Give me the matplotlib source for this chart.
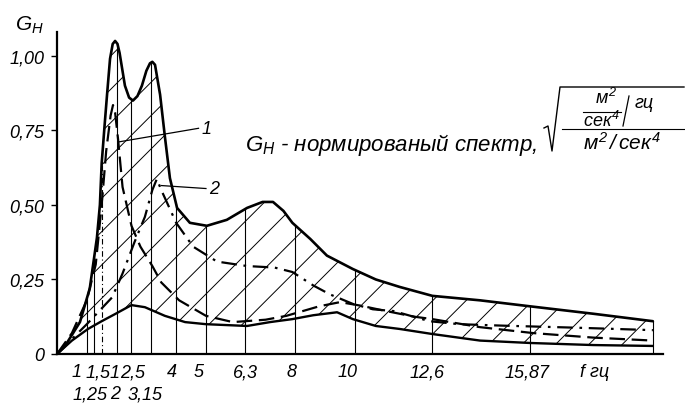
import numpy as np
import matplotlib
matplotlib.use("Agg")
import matplotlib.pyplot as plt
from matplotlib import font_manager
from matplotlib.lines import Line2D
from matplotlib.transforms import ScaledTranslation, blended_transform_factory

plt.rcParams["font.family"] = ["Liberation Sans", "DejaVu Sans"]
plt.rcParams["font.style"] = "italic"
plt.rcParams["mathtext.fontset"] = "custom"
plt.rcParams["mathtext.it"] = "Liberation Sans:italic"
plt.rcParams["mathtext.rm"] = "Liberation Sans:italic"
plt.rcParams["mathtext.sf"] = "Liberation Sans:italic"
plt.rcParams["hatch.linewidth"] = 0.7

installed = {f.name for f in font_manager.fontManager.ttflist}
NARROW = "Liberation Sans Narrow" if "Liberation Sans Narrow" in installed else "Liberation Sans"

# верхняя огибающая нормированного спектра
f_up = [0, 0.27, 0.77, 1.1, 1.34, 1.44, 1.5, 1.6, 1.68, 1.78, 1.87, 1.95, 2.03, 2.1,
        2.28, 2.42, 2.55, 2.7, 2.85, 3.0, 3.12, 3.2, 3.29, 3.46, 3.62, 3.79, 4.03,
        4.46, 5.03, 5.7, 6.38, 6.9, 7.25, 7.6, 7.9, 8.5, 9.06, 9.93, 10.7, 11.5,
        12.6, 14.2, 15.87, 18.0, 20.0]
g_up = [0, 0.027, 0.107, 0.22, 0.39, 0.50, 0.64, 0.77, 0.87, 0.99, 1.04, 1.05, 1.04, 1.01,
        0.90, 0.86, 0.85, 0.865, 0.90, 0.95, 0.975, 0.98, 0.97, 0.87, 0.73, 0.59, 0.49,
        0.44, 0.43, 0.45, 0.49, 0.51, 0.51, 0.48, 0.44, 0.386, 0.33, 0.285, 0.25, 0.225,
        0.195, 0.18, 0.16, 0.135, 0.11]

# нижняя огибающая
f_lo = [0, 0.5, 1.04, 1.5, 1.95, 2.5, 2.95, 3.62, 4.3, 5.0, 6.38, 7.15, 7.9, 8.6,
        9.4, 9.93, 10.7, 11.5, 12.6, 14.2, 15.87, 18.0, 20.0]
g_lo = [0, 0.045, 0.084, 0.11, 0.134, 0.164, 0.157, 0.128, 0.107, 0.1, 0.094, 0.107,
        0.117, 0.13, 0.14, 0.117, 0.094, 0.084, 0.067, 0.045, 0.037, 0.03, 0.027]

# кривая 1 (штриховая)
f_1 = [0, 0.5, 1.0, 1.3, 1.5, 1.65, 1.8, 1.88, 1.95, 2.05, 2.2, 2.5, 2.8, 3.2, 3.5,
       4.1, 5.0, 5.9, 7.0, 7.7, 8.8, 9.5, 10.2, 11.0, 12.0, 12.6, 14.2, 16.0, 18.0, 20.0]
g_1 = [0, 0.07, 0.18, 0.3, 0.5, 0.68, 0.80, 0.835, 0.81, 0.72, 0.56, 0.43, 0.36, 0.295,
       0.24, 0.18, 0.128, 0.107, 0.115, 0.128, 0.16, 0.174, 0.162, 0.145, 0.125, 0.117,
       0.09, 0.07, 0.055, 0.045]

# кривая 2 (штрихпунктирная)
f_2 = [0, 1.0, 1.85, 2.2, 2.6, 2.95, 3.2, 3.35, 3.5, 4.0, 4.57, 5.37, 6.38, 7.3, 7.9,
       8.6, 9.16, 9.93, 10.6, 11.3, 12.5, 13.5, 15.0, 17.5, 20.0]
g_2 = [0, 0.1, 0.19, 0.27, 0.375, 0.46, 0.55, 0.587, 0.55, 0.44, 0.36, 0.31, 0.295, 0.29,
       0.275, 0.23, 0.2, 0.168, 0.15, 0.144, 0.11, 0.10, 0.095, 0.088, 0.08]

# границы третьоктавных полос, гц
bands = [1, 1.25, 1.51, 2, 2.5, 3.15, 4, 5, 6.3, 8, 10, 12.6, 15.87, 20]
row1 = [1, 1.51, 2.5, 4, 5, 6.3, 8, 10, 12.6, 15.87]
row1_lbl = ["1", "1,51", "2,5", "4", "5", "6,3", "8", "10", "12,6", "15,87"]
row2 = [1.25, 2, 3.15]
row2_lbl = ["1,25", "2", "3,15"]
y_ticks = [0, 0.25, 0.5, 0.75, 1.0]
y_lbl = ["0", "0,25", "0,50", "0,75", "1,00"]

# сдвиг подписей частот, px
row1_dx = [-10, 1, 1, -4, -7, 1, -4, -7, -5, -3]
row2_dx = [-4, -1, -6]

W, H = 685, 406
fig = plt.figure(figsize=(W / 100, H / 100), dpi=100)
ax = fig.add_axes([57 / W, 51 / H, 606 / W, 322 / H])
ax.set_xlim(0, 20.34)
ax.set_ylim(0, 1.08)


def px(x, y):
    # пиксели от левого верхнего угла -> доли фигуры
    return x / W, 1 - y / H


def fig_line(xs, ys, **kw):
    pts = [px(x, y) for x, y in zip(xs, ys)]
    fig.add_artist(Line2D([p[0] for p in pts], [p[1] for p in pts],
                          transform=fig.transFigure, color="black", **kw))


def fig_text(x, y, s, **kw):
    fx, fy = px(x, y)
    fig.text(fx, fy, s, ha="center", va="center", **kw)


# штриховка области между огибающими
poly_x = list(f_up) + list(f_lo[::-1])
poly_y = list(g_up) + list(g_lo[::-1])
ax.fill(poly_x, poly_y, facecolor="none", edgecolor="black", hatch="/", linewidth=0)

for fb in bands:
    top = np.interp(fb, f_up, g_up)
    ls = (0, (5, 2.5, 1, 2.5)) if fb == 1.51 else "-"
    ax.plot([fb, fb], [0, top], color="black", lw=0.8, ls=ls)

ax.plot(f_up, g_up, color="black", lw=1.9, solid_capstyle="round")
ax.plot(f_lo, g_lo, color="black", lw=1.7, solid_capstyle="round")
ax.plot(f_1, g_1, color="black", lw=1.6, dashes=(7, 3))
ax.plot(f_2, g_2, color="black", lw=1.6, dashes=(7, 3, 1.2, 3))

# выноски
ax.plot([2.05, 4.75], [0.711, 0.757], color="black", lw=0.9)
ax.text(4.85, 0.757, "1", fontsize=13, va="center", ha="left")
ax.plot([3.5, 5.0], [0.565, 0.555], color="black", lw=0.9)
ax.text(5.1, 0.555, "2", fontsize=13, va="center", ha="left")

# подпись с размерностью
fx, fy = px(245, 151)
fig.text(fx, fy, r"$G_{Н}$ - нормированый спектр,", fontsize=16, ha="left", va="baseline")
fig_line([544, 548, 552, 560, 684], [129, 127, 152, 88, 88], lw=1.0)
fig_text(606, 98, r"$м^2$", fontsize=13)
fig_line([583, 621], [113, 113], lw=0.8)
fig_text(601, 121, r"$сек^4$", fontsize=13)
fig_line([623, 629], [127, 97], lw=0.9)
fig_text(644, 104, "гц", fontsize=13)
fig_line([562, 684], [130, 130], lw=0.8)
fig_text(622, 143, r"$м^2\,/\,сек^4$", fontsize=15)

for s in ["top", "right"]:
    ax.spines[s].set_visible(False)
ax.spines["left"].set_linewidth(1.6)
ax.spines["bottom"].set_linewidth(1.6)

ax.set_yticks(y_ticks)
ax.set_yticklabels(y_lbl, fontsize=13)
ax.tick_params(axis="y", direction="out", length=4, width=1, pad=5)
ax.set_xticks([])

# подписи частот в два ряда
xlab_tr = blended_transform_factory(ax.transData, ax.transAxes)
for fv, s, dx in zip(row1, row1_lbl, row1_dx):
    tr = xlab_tr + ScaledTranslation(dx / 100, 0, fig.dpi_scale_trans)
    ax.text(fv, -18 / 322, s, fontsize=13, family=NARROW, ha="center", va="center",
            transform=tr)
for fv, s, dx in zip(row2, row2_lbl, row2_dx):
    tr = xlab_tr + ScaledTranslation(dx / 100, 0, fig.dpi_scale_trans)
    ax.text(fv, -40 / 322, s, fontsize=13, family=NARROW, ha="center", va="center",
            transform=tr)
ax.text(18.05, -18 / 322, "f гц", fontsize=13, ha="center", va="center", transform=xlab_tr)

fx, fy = px(15, 25)
fig.text(fx, fy, r"$G_{Н}$", fontsize=15, ha="left", va="center")

fig.savefig("out.png", dpi=100)
